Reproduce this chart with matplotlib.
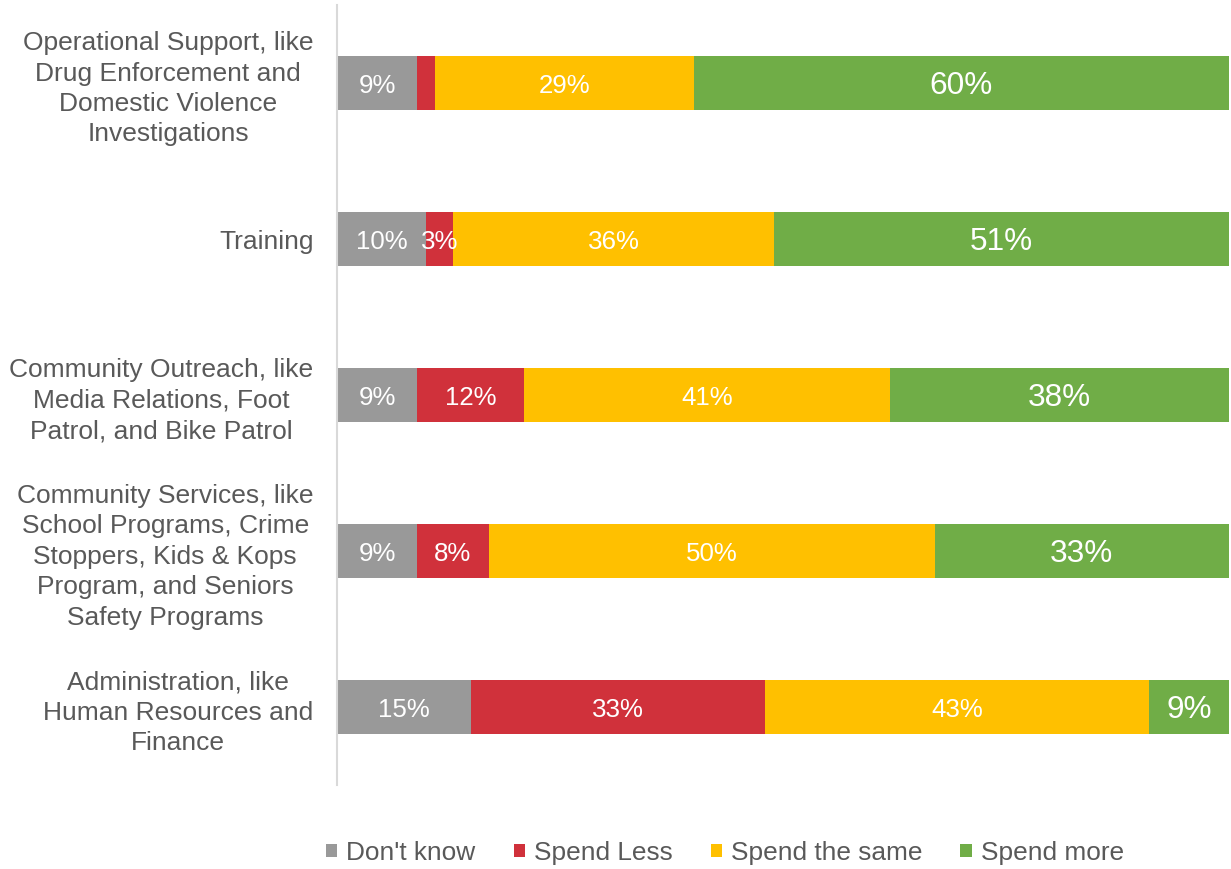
import matplotlib
matplotlib.use("Agg")
import matplotlib.pyplot as plt
import numpy as np

plt.rcParams['font.family'] = ['Liberation Sans', 'DejaVu Sans']

categories = [
    "Operational Support, like\nDrug Enforcement and\nDomestic Violence\nInvestigations",
    "Training",
    "Community Outreach, like\nMedia Relations, Foot\nPatrol, and Bike Patrol",
    "Community Services, like\nSchool Programs, Crime\nStoppers, Kids & Kops\nProgram, and Seniors\nSafety Programs",
    "Administration, like\nHuman Resources and\nFinance",
]
series_names = ["Don't know", "Spend Less", "Spend the same", "Spend more"]
dont_know = [9, 10, 9, 9, 15]
spend_less = [2, 3, 12, 8, 33]
spend_same = [29, 36, 41, 50, 43]
spend_more = [60, 51, 38, 33, 9]
# the thin Operational Support "Spend Less" sliver carries no label
show_less_label = [False, True, True, True, True]

colors = ["#999999", "#D0313B", "#FFC000", "#70AD47"]
label_sizes = [18.6, 18.6, 18.6, 22.7]
text_grey = "#595959"

fig = plt.figure(figsize=(12.31, 8.69), dpi=100)
ax = fig.add_axes([337 / 1231, 1 - 785 / 869, (1229 - 337) / 1231, 780 / 869])

y = np.arange(len(categories))
left = np.zeros(len(categories))
all_series = [dont_know, spend_less, spend_same, spend_more]
for i, (name, vals) in enumerate(zip(series_names, all_series)):
    vals = np.array(vals, dtype=float)
    ax.barh(y, vals, left=left, height=0.35, color=colors[i], label=name)
    for j, v in enumerate(vals):
        if i == 1 and not show_less_label[j]:
            continue
        ax.text(left[j] + v / 2, y[j] + 0.02, f"{int(v)}%", ha="center", va="center",
                color="white", fontsize=label_sizes[i])
    left += vals

ax.set_xlim(0, 100)
ax.set_ylim(4.5, -0.5)
ax.set_yticks(y)
ax.set_yticklabels(categories, fontsize=19, color=text_grey, ha="right",
                   multialignment="center", linespacing=1.34)
ax.tick_params(axis="y", length=0, pad=17)
ax.set_xticks([])
for s in ["top", "right", "bottom"]:
    ax.spines[s].set_visible(False)
ax.spines["left"].set_color("#D9D9D9")
ax.spines["left"].set_linewidth(1.5)

leg = fig.legend(loc="center", bbox_to_anchor=(725 / 1231, 1 - 853 / 869), ncol=4,
                 frameon=False, fontsize=18.9, handlelength=0.42, handleheight=0.42,
                 handletextpad=0.35, columnspacing=1.45, borderpad=0)
for t in leg.get_texts():
    t.set_color(text_grey)

fig.savefig("out.png", dpi=100)
